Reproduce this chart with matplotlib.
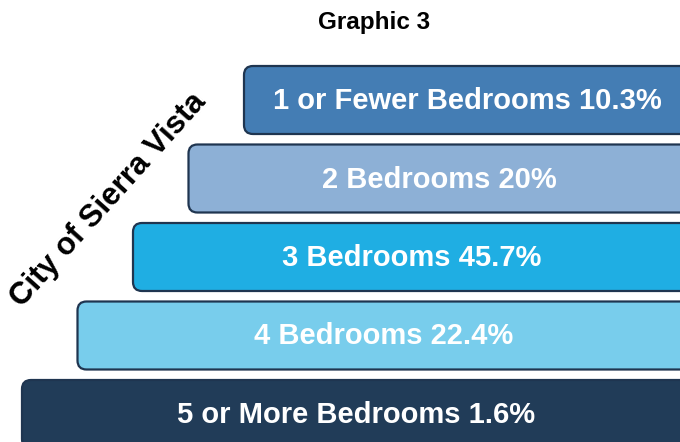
import matplotlib.pyplot as plt
from matplotlib.patches import FancyBboxPatch

# data
categories = ['1 or Fewer Bedrooms', '2 Bedrooms', '3 Bedrooms', '4 Bedrooms', '5 or More Bedrooms']
shares = [10.3, 20, 45.7, 22.4, 1.6]
colors = ['#447db4', '#8db0d6', '#1faee3', '#78cdec', '#213c58']

plt.rcParams['font.family'] = ['Liberation Sans', 'DejaVu Sans']

fig = plt.figure(figsize=(6.8, 4.42), dpi=100)
ax = fig.add_axes([0, 0, 1, 1])
ax.set_xlim(0, 680)
ax.set_ylim(442, 0)
ax.axis('off')

# staircase of rounded boxes, each steps left as it goes down
for i, (cat, val, col) in enumerate(zip(categories, shares, colors)):
    left = 244 - 55.5 * i
    top = 66 + 78.5 * i
    h = 68
    box = FancyBboxPatch((left, top), 760 - left, h,
                         boxstyle='round,pad=0,rounding_size=9',
                         facecolor=col, edgecolor='#1f3550', linewidth=1.6)
    ax.add_patch(box)
    label = f'{cat} {val:g}%'
    ax.text((left + 690) / 2, top + h / 2 + 1, label, color='white',
            fontsize=21, fontweight='bold', ha='center', va='center')

ax.text(374, 22, 'Graphic 3', fontsize=17.5, fontweight='bold',
        ha='center', va='center')
ax.text(108, 200, 'City of Sierra Vista', fontsize=22.5, fontweight='bold',
        ha='center', va='center', rotation=48, rotation_mode='anchor')

fig.savefig('out.png', dpi=100)
